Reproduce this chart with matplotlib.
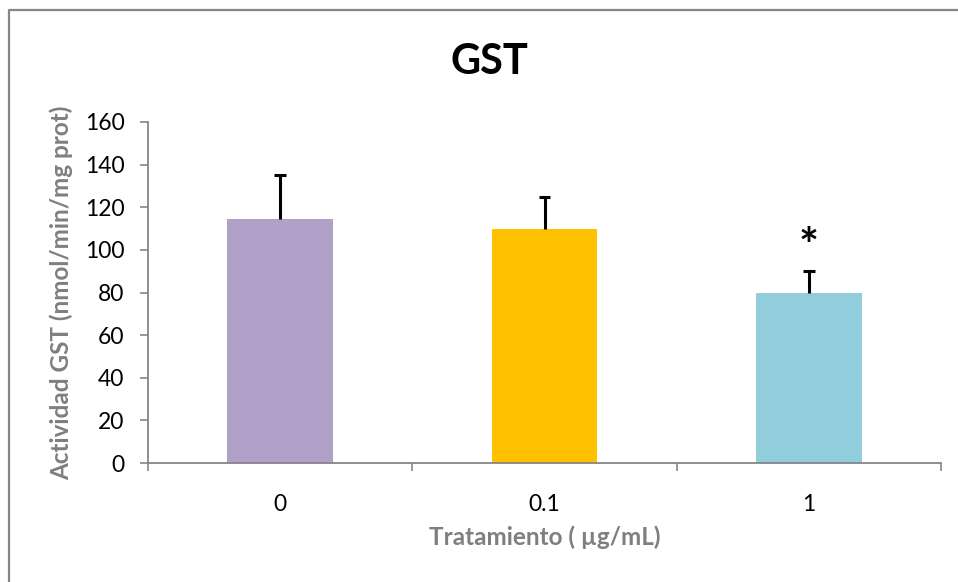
import matplotlib
matplotlib.use("Agg")
import matplotlib.pyplot as plt
from matplotlib.lines import Line2D
import numpy as np

categories = ["0", "0.1", "1"]
values = [114.5, 109.7, 79.7]
errors = [20.5, 15.0, 10.3]
colors = ["#B1A0C7", "#FFC000", "#92CDDC"]
yticks = [0, 20, 40, 60, 80, 100, 120, 140, 160]
star_index = 2
star_y = 101

plt.rcParams['font.family'] = ['Lato', 'DejaVu Sans']

fig = plt.figure(figsize=(9.58, 5.82), dpi=100)
ax = fig.add_axes([148/958, 1-463/582, (941-148)/958, (463-122)/582])

x = np.arange(len(categories))
vals = np.array(values)
errs = np.array(errors)
ax.bar(x, vals, width=0.4, color=colors, zorder=2)
ax.vlines(x, vals, vals + errs, color='black', linewidth=2.2, zorder=3)
ax.hlines(vals + errs, x - 0.022, x + 0.022, color='black', linewidth=2.2, zorder=3)
ax.text(x[star_index], star_y, "*", ha='center', va='center',
        fontsize=34, fontweight='bold', color='black')

ax.set_xlim(-0.5, len(categories) - 0.5)
ax.set_ylim(0, 160)
ax.set_yticks(yticks)
ax.set_yticklabels([str(t) for t in yticks], fontsize=16.5)
ax.set_xticks(x)
ax.set_xticklabels(categories, fontsize=16.5)
ax.tick_params(axis='x', length=0, pad=22)
ax.set_xticks(np.arange(-0.5, len(categories)), minor=True)
ax.tick_params(axis='x', which='minor', length=6, color='#868686', width=1.2)
ax.tick_params(axis='y', length=6, color='#868686', width=1.2, pad=11)

for s in ['top', 'right']:
    ax.spines[s].set_visible(False)
for s in ['left', 'bottom']:
    ax.spines[s].set_color('#868686')
    ax.spines[s].set_linewidth(1.3)

ax.set_xlabel("Tratamiento ( µg/mL)", fontsize=17.5, fontweight='bold',
              color='#7F7F7F', labelpad=8)
ax.set_ylabel("Actividad GST (nmol/min/mg prot)", fontsize=17.5,
              fontweight='bold', color='#7F7F7F', labelpad=8)

fig.text(489/958, 1-62/582, "GST", ha='center', va='center',
         fontsize=30, fontweight='bold', color='black')

fig.lines.append(Line2D([9/958, 9/958, 1.0], [0.0, 1-9.5/582, 1-9.5/582],
                        transform=fig.transFigure, color='#868686', linewidth=1.6))

fig.savefig("out.png", dpi=100)
